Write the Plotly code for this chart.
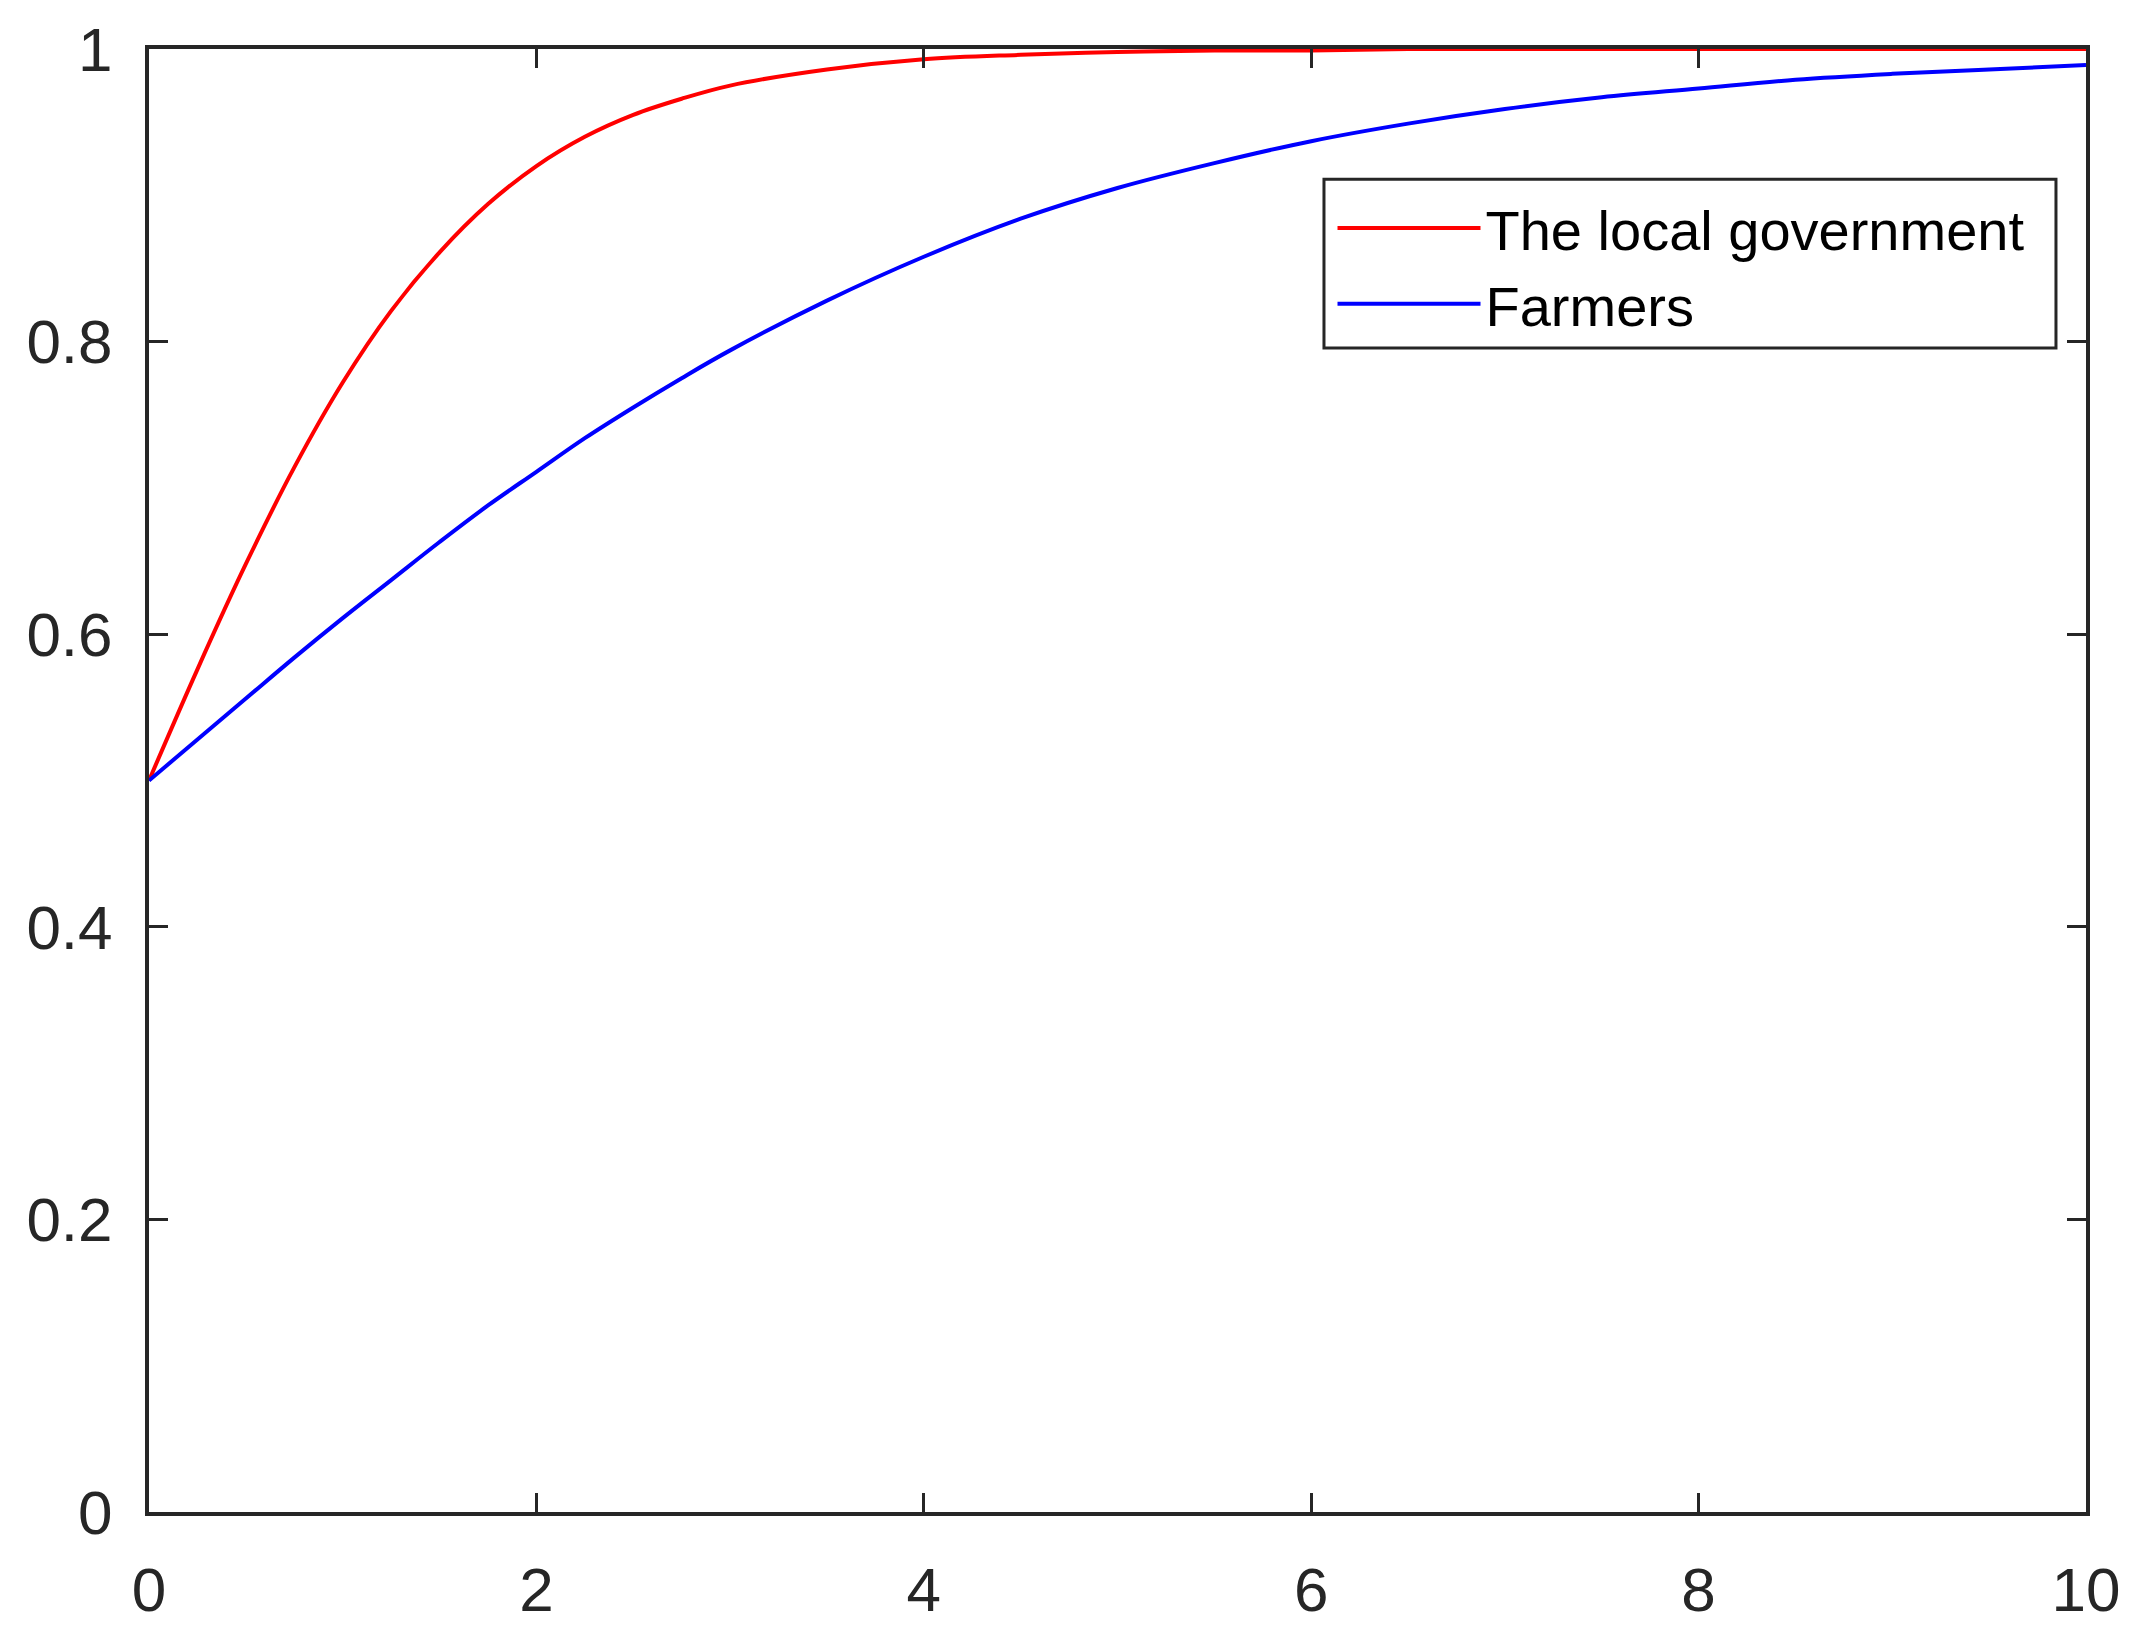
import plotly.graph_objects as go

# Time axis
t_vals = [0, 0.25, 0.5, 0.75, 1, 1.25, 1.5, 1.75, 2, 2.25, 2.5, 2.75, 3, 3.5, 4, 4.5, 5,
          5.5, 6, 6.5, 7, 7.5, 8, 8.5, 9, 9.5, 10]

# The local government (red)
gov_vals = [0.500, 0.576, 0.648, 0.714, 0.772, 0.821, 0.861, 0.894, 0.920, 0.940, 0.955,
            0.966, 0.975, 0.986, 0.993, 0.996, 0.998, 0.999, 0.999, 1.000, 1.000, 1.000,
            1.000, 1.000, 1.000, 1.000, 1.000]

# Farmers (blue)
farm_vals = [0.500, 0.528, 0.556, 0.584, 0.611, 0.637, 0.663, 0.688, 0.711, 0.734, 0.755,
             0.775, 0.794, 0.828, 0.858, 0.884, 0.905, 0.922, 0.937, 0.949, 0.959, 0.967,
             0.973, 0.979, 0.983, 0.986, 0.989]

series_names = ["The local government", "Farmers"]
x_ticks = [0, 2, 4, 6, 8, 10]
y_ticks = [0, 0.2, 0.4, 0.6, 0.8, 1]
y_tick_text = ["0", "0.2", "0.4", "0.6", "0.8", "1"]

AX = "#262626"

fig = go.Figure()
fig.add_trace(go.Scatter(x=t_vals, y=gov_vals, mode="lines", name=series_names[0],
                         line=dict(color="#ff0000", width=4, shape="spline")))
fig.add_trace(go.Scatter(x=t_vals, y=farm_vals, mode="lines", name=series_names[1],
                         line=dict(color="#0000ff", width=4, shape="spline")))

axis_common = dict(showline=True, linewidth=4, linecolor=AX, mirror="ticks",
                   ticks="inside", ticklen=19, tickwidth=3, tickcolor=AX,
                   showgrid=False, zeroline=False, automargin=False,
                   tickfont=dict(family="Liberation Sans, Arial, sans-serif", size=62, color=AX))

fig.update_xaxes(range=[0, 10], tickvals=x_ticks, ticktext=[str(v) for v in x_ticks],
                 ticklabelstandoff=21, **axis_common)
fig.update_yaxes(range=[0, 1], tickvals=y_ticks, ticktext=y_tick_text,
                 ticklabelstandoff=20, **axis_common)

# legend frame (styling only)
fig.add_shape(type="rect", xref="paper", yref="paper",
              x0=0.6066, x1=0.9845, y0=0.7956, y1=0.911,
              line=dict(color=AX, width=3), fillcolor="white", layer="above")

fig.update_layout(
    width=2130, height=1626,
    margin=dict(l=141, r=52, t=41, b=122, pad=0),
    paper_bgcolor="white", plot_bgcolor="white",
    showlegend=True,
    legend=dict(x=0.6110, y=0.907, xanchor="left", yanchor="top",
                bgcolor="rgba(0,0,0,0)", borderwidth=0,
                font=dict(family="Liberation Sans, Arial, sans-serif",
                          size=56, color="#000000"),
                itemwidth=143),
)

fig.write_html("out.html")
